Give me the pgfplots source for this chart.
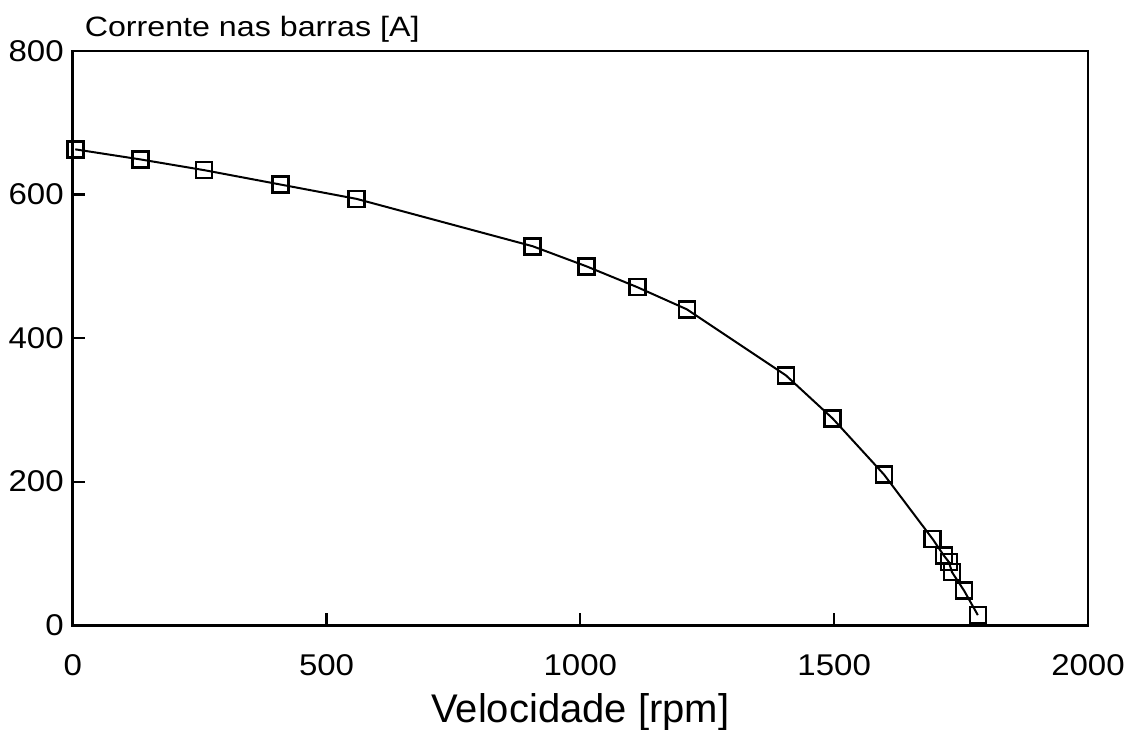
\documentclass[border=0pt]{standalone}
\usepackage{fontspec}
\setmainfont{Liberation Sans}
% slightly wide plotter-style lettering for the tick numbers and the title
\newfontfamily\widefont[FakeStretch=1.1]{Liberation Sans}
\newfontfamily\titlefont[FakeStretch=1.15]{Liberation Sans}
\usepackage{pgfplots}
\pgfplotsset{compat=1.18}

\begin{document}
\begin{tikzpicture}
% fixed page frame around the axis box
\useasboundingbox (-36.35pt,-52pt) rectangle (530.5pt,312.5pt);
\begin{axis}[
  scale only axis,
  width=507.5pt, height=287pt,
  at={(0,0)}, anchor=south west,
  xmin=0, xmax=2000, ymin=0, ymax=800,
  xtick={0,500,1000,1500,2000},
  ytick={0,200,400,600,800},
  xtick pos=bottom, ytick pos=left,
  tick align=inside,
  major tick length=6pt,
  every tick/.style={black, line width=1.1pt},
  axis line style={line width=1.4pt},
  /pgf/number format/assume math mode=true,
  /pgf/number format/1000 sep={},
  tick label style={font=\widefont\fontsize{15}{17}\selectfont},
  xticklabel style={yshift=-11.3pt},
  yticklabel style={xshift=-1pt},
  title={Corrente nas barras [A]},
  title style={at={(0,1)}, anchor=base west, yshift=1.5pt, xshift=2.5pt,
    font=\titlefont\fontsize{14}{16}\selectfont},
  xlabel={Velocidade [rpm]},
  xlabel style={font=\fontsize{20}{22}\selectfont, at={(0.5,0)}, anchor=center, yshift=-43.5pt},
]
\addplot[black, line width=1pt, mark=square, mark size=4pt,
  mark options={line width=1.3pt, fill=none}]
  coordinates {
  (5,663) (133,649) (259,634) (409,614) (559,594) (906,528)
  (1012,500) (1112,471) (1210,440) (1405,348) (1497,288) (1598,210)
  (1694,120) (1716,97) (1726,88) (1732,74) (1756,48) (1783,14)
  };
\end{axis}
\end{tikzpicture}
\end{document}
